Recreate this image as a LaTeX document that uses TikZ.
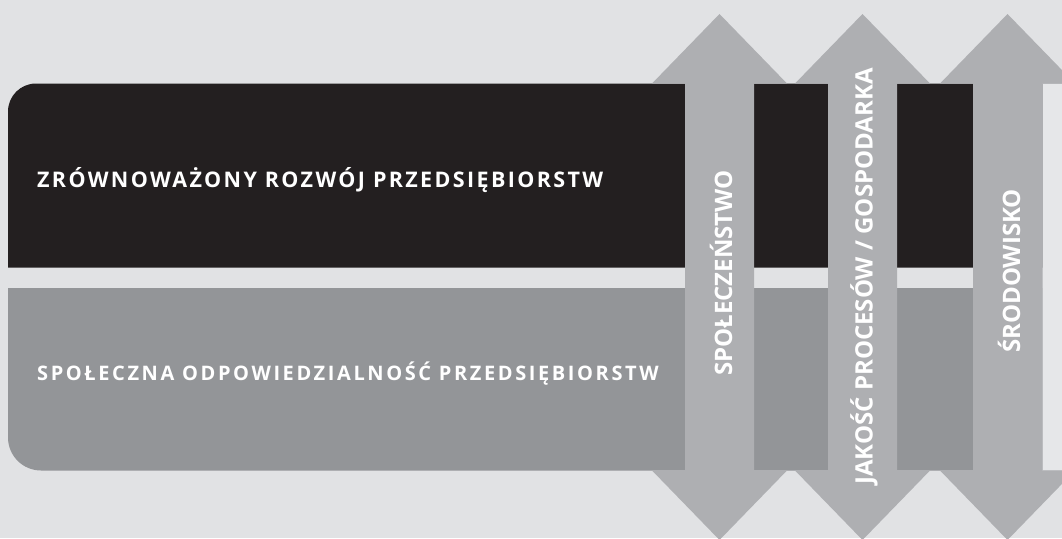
\documentclass[tikz,border=0pt]{standalone}
\usepackage{fontspec}
\setmainfont{Open Sans}[BoldFont={* Bold}]
\newfontfamily\topfont{Open Sans}[UprightFont={* Bold},LetterSpace=11]
\newfontfamily\lowfont{Open Sans}[UprightFont={* Bold},LetterSpace=13]
\newfontfamily\axisfont{Open Sans}[UprightFont={* Bold}]
\definecolor{bgcol}{HTML}{E1E2E4}
\definecolor{darkbar}{HTML}{231F20}
\definecolor{midbar}{HTML}{939598}
\definecolor{arrowcol}{HTML}{AEAFB2}
\definecolor{stripcol}{HTML}{E6E7E9}
\definecolor{stripline}{HTML}{C4C5C8}
\tikzset{
  bartext/.style={text=white, anchor=west, inner sep=0pt},
  axistext/.style={text=white, rotate=90, inner sep=0pt, font=\axisfont\fontsize{24}{24}\selectfont},
  pillar/.style={fill=arrowcol}
}
\begin{document}
\begin{tikzpicture}[x=1pt,y=-1pt]
\useasboundingbox (0,0) rectangle (1062,538);
\fill[bgcol] (0,0) rectangle (1062,538);
% light strip on the right edge
\filldraw[fill=stripcol, draw=stripline, line width=0.8pt] (1042,83.5) rectangle (1070,470.5);
% upper bar: sustainable development
\fill[darkbar, rounded corners=28pt] (8,200) -- (8,83.5) -- (200,83.5) [sharp corners] -- (1042,83.5) -- (1042,267.5) -- (8,267.5) -- cycle;
% lower bar: corporate social responsibility
\fill[midbar, rounded corners=33pt] (8,360) -- (8,470.5) -- (200,470.5) [sharp corners] -- (1042,470.5) -- (1042,288) -- (8,288) -- cycle;
% three two-headed pillars
\foreach \c in {719.5,862.5,1007.5}{
  \fill[pillar] (\c-34.5,83.5) -- (\c-67.5,83.5) -- (\c,14) -- (\c+67.5,83.5) -- (\c+34.5,83.5)
    -- (\c+34.5,470.5) -- (\c+67.5,470.5) -- (\c,540) -- (\c-67.5,470.5) -- (\c-34.5,470.5) -- cycle;
}
\node[bartext, font=\topfont\fontsize{21.5}{22}\selectfont] (zrp) at (37,180.5) {ZRÓWNOWAŻONY ROZWÓJ PRZEDSIĘBIORSTW};
\node[bartext, font=\lowfont\fontsize{20}{20}\selectfont] (sop) at (37,374) {SPOŁECZNA ODPOWIEDZIALNOŚĆ PRZEDSIĘBIORSTW};
\node[axistext] (spo) at (721,273) {SPOŁECZEŃSTWO};
\node[axistext] (jak) at (864,276.5) {JAKOŚĆ PROCESÓW / GOSPODARKA};
\node[axistext] (sro) at (1009,271) {ŚRODOWISKO};
\end{tikzpicture}
\end{document}
